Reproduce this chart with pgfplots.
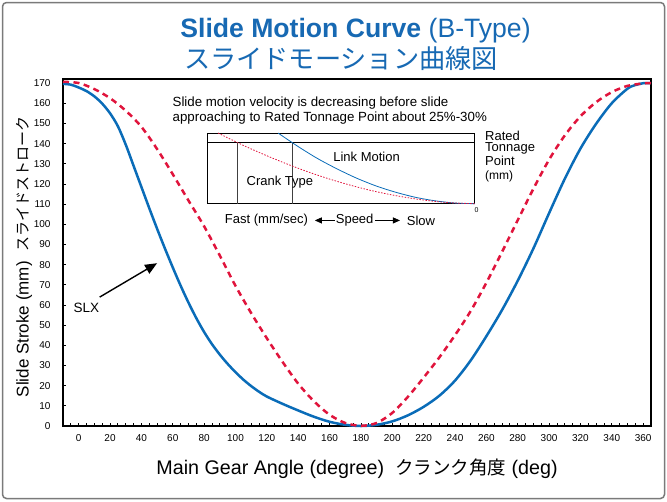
\documentclass[border=0pt]{standalone}
\usepackage{fontspec}
\setmainfont{Liberation Sans}
\newfontfamily\jp{Noto Sans CJK JP}
\usepackage{pgfplots}
\pgfplotsset{compat=1.18}
\usetikzlibrary{arrows.meta}
\definecolor{slxblue}{HTML}{0A6CB8}
\definecolor{crankred}{HTML}{E0143C}
\definecolor{titleblue}{HTML}{1769B3}
\definecolor{framegray}{HTML}{7A7A7A}
\begin{document}
\begin{tikzpicture}
\useasboundingbox (0,0) rectangle (667pt,-501pt);
\draw[framegray, line width=1.5pt, rounded corners=4pt] (2.5pt,-2.5pt) rectangle (664.5pt,-498.5pt);
\node[titleblue, font=\fontsize{26.6}{30}\selectfont] at (355.5pt,-31pt) {\textbf{Slide Motion Curve} (B-Type)};
\node[titleblue, font=\fontsize{26.2}{30}\selectfont\jp] at (341pt,-59pt) {スライドモーション曲線図};
\begin{axis}[
  at={(63pt,-426pt)}, anchor=south west,
  width=588pt, height=347pt, scale only axis,
  xmin=-10, xmax=365, ymin=0, ymax=172,
  axis line style={line width=1.2pt},
  xtick={0,20,...,360}, minor xtick={-5,0,...,360},
  ytick={0,10,...,170},
  tick align=inside, major tick length=3pt, minor tick length=3pt,
  xtick pos=bottom, ytick pos=left,
  tick style={black, line width=0.8pt},
  /pgf/number format/assume math mode=true,
  xticklabel style={font=\fontsize{10}{12}\selectfont, yshift=-5pt},
  yticklabel style={font=\fontsize{10}{12}\selectfont, xshift=-9pt},
  xlabel={Main Gear Angle (degree)\ \ {\jp\fontsize{18.5}{22}\selectfont クランク角度} (deg)},
  ylabel={Slide Stroke (mm)\ \ {\jp\fontsize{15}{18}\selectfont スライドストローク}},
  xlabel style={at={(axis description cs:0.5,-0.124)}, anchor=center, font=\fontsize{19.7}{22}\selectfont},
  ylabel style={at={(axis description cs:-0.066,0.487)}, anchor=center, font=\fontsize{17}{20}\selectfont},
  clip=false,
]
% SLX (link motion)
\addplot[slxblue, line width=2.5pt, smooth] coordinates {
(-10,169.6) (-5,169.2) (0,167.8) (5,166) (10,163.4) (15,159.8) (20,155) (25,148.6)
(30,139.5) (35,129) (40,118.5) (45,108) (50,97.8) (55,88) (60,78.6) (65,69.6)
(70,61.2) (75,53.5) (80,46.6) (85,40.6) (90,35.4) (95,30.8) (100,26.7) (105,23)
(110,19.8) (115,17) (120,14.6) (130,11) (140,7.7) (150,4.6) (160,2.1) (170,0.6)
(180,0) (190,0.6) (200,2.3) (210,5.3) (220,9.5) (230,15) (240,22.5) (250,32.5)
(260,44.5) (270,57.5) (280,72) (290,88) (300,105.5) (310,122.5) (320,137.5)
(330,149.8) (340,160) (350,167.2) (355,169) (360,169.9) (365,170)};
% Crank type
\addplot[crankred, line width=2.5pt, dash pattern=on 6pt off 4.5pt, smooth] coordinates {
(-10,170.6) (0,170) (10,167) (20,162.5) (30,156.3) (40,148.3) (50,137.3) (60,124.8)
(70,111.8) (80,99) (90,84.5) (100,69.5) (110,56) (120,43.5) (130,31.8) (140,21)
(150,12.3) (160,5.6) (170,1.5) (180,0.1) (190,1.5) (200,6.5) (210,14.5) (220,24)
(230,34) (240,45) (250,57) (260,71) (270,86.3) (280,102) (290,117.6) (300,132)
(310,144) (320,153.5) (330,160.5) (340,165.5) (350,168.6) (360,169.8) (365,170)};
% inset
\draw[black, line width=0.9pt] (axis cs:82.1,110.2) rectangle (axis cs:252.7,145.2);
\draw[black, line width=0.9pt] (axis cs:82.1,140.6) -- (axis cs:252.7,140.6);
\draw[black!75, line width=0.9pt] (axis cs:101.3,110.2) -- (axis cs:101.3,140.6);
\draw[black!75, line width=0.9pt] (axis cs:136.1,110.2) -- (axis cs:136.1,140.6);
\addplot[slxblue, line width=0.8pt, smooth] coordinates {(127.2,145.2) (139.8,138.6) (152.3,132.6) (164.9,127.4) (177.4,122.8) (190.0,118.9) (202.5,115.8) (215.1,113.3) (227.6,111.6) (240.2,110.5) (252.7,110.2)};
\addplot[crankred, line width=0.8pt, dash pattern=on 1.5pt off 1.5pt, smooth] coordinates {(88.9,145.2) (105.3,139.0) (121.7,133.4) (138.1,128.3) (154.4,123.8) (170.8,119.9) (187.2,116.6) (203.6,114.0) (220.0,112.0) (236.3,110.7) (252.7,110.2)};
\node[anchor=west, align=left, inner sep=0pt, font=\fontsize{13.3}{14.7}\selectfont] at (axis cs:59.8,156.2) {Slide motion velocity is decreasing before slide\\approaching to Rated Tonnage Point about 25\%-30\%};
\node[font=\fontsize{13}{15}\selectfont] at (axis cs:183.6,133.6) {Link Motion};
\node[font=\fontsize{13}{15}\selectfont] at (axis cs:128.3,120.7) {Crank Type};
\node[anchor=east, inner sep=0pt, font=\fontsize{13}{15}\selectfont] at (axis cs:146.4,101.9) {Fast (mm/sec)};
\node[font=\fontsize{13}{15}\selectfont] at (axis cs:176,101.9) {Speed};
\node[anchor=west, inner sep=0pt, font=\fontsize{13}{15}\selectfont] at (axis cs:209.2,101.9) {Slow};
\draw[-{Triangle[length=7pt,width=6pt]}, line width=0.8pt] (axis cs:163.4,101.9) -- (axis cs:150.6,101.9);
\draw[-{Triangle[length=7pt,width=6pt]}, line width=0.8pt] (axis cs:188.9,101.9) -- (axis cs:204.9,101.9);
\node[anchor=north west, align=left, inner sep=0pt, font=\fontsize{13}{11.7}\selectfont] at (axis cs:259.1,146.4) {Rated\\Tonnage\\Point};
\node[anchor=west, inner sep=0pt, font=\fontsize{12}{14}\selectfont] at (axis cs:259.1,123.7) {(mm)};
\node[font=\fontsize{7}{8}\selectfont] at (axis cs:253.8,107.2) {0};
% SLX label
\node[font=\fontsize{13.5}{16}\selectfont] at (axis cs:4.9,58.4) {SLX};
\draw[-{Triangle[length=12pt,width=10pt]}, line width=1.4pt] (axis cs:13.4,63.9) -- (axis cs:50.0,80.7);
\end{axis}
\end{tikzpicture}
\end{document}
